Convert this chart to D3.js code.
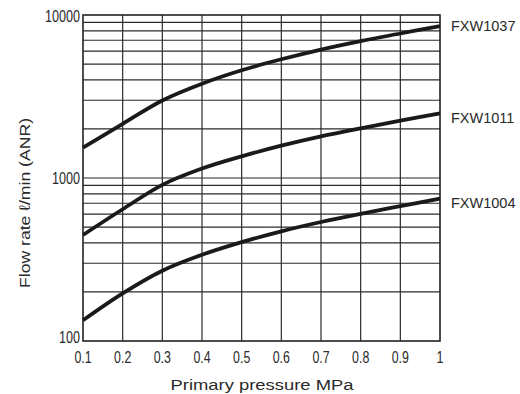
<!DOCTYPE html>
<html><head><meta charset="utf-8">
<script src="https://cdn.jsdelivr.net/npm/d3@7"></script>
<style>body{margin:0;background:#fff}svg{display:block}text{font-family:"Liberation Sans",Arial,sans-serif;fill:#2a2a2a}</style>
</head><body><svg id="c" width="520" height="394"></svg>
<script>
const pressures = [0.1,0.2,0.3,0.4,0.5,0.6,0.7,0.8,0.9,1.0];
const fxw1037 = [1535,2150,2990,3790,4580,5350,6140,6920,7700,8550];
const fxw1011 = [447,643,908,1143,1358,1578,1799,2018,2249,2495];
const fxw1004 = [134,196,270,338,404,471,537,603,672,748];
const seriesNames = ["FXW1037","FXW1011","FXW1004"];
const xTicks = [0.1,0.2,0.3,0.4,0.5,0.6,0.7,0.8,0.9,1];
const xTickLabels = ["0.1","0.2","0.3","0.4","0.5","0.6","0.7","0.8","0.9","1"];
const yTicks = [100,1000,10000];
const yGrid = [200,300,400,500,600,700,800,900,1000,2000,3000,4000,5000,6000,7000,8000,9000];

const svg = d3.select("#c");
const L=83, R=440, T=15, B=341;
const x = d3.scaleLinear().domain([0.1,1]).range([L,R]);
const y = d3.scaleLog().domain([100,10000]).range([B,T]);

function tlen(s){let w=0;for(const ch of s){w+= ch==="."?3.2:7;}return w;}

// grid
const g = svg.append("g");
g.selectAll("line.h").data(yGrid).join("line")
 .attr("x1",L).attr("x2",R).attr("y1",d=>y(d)).attr("y2",d=>y(d))
 .attr("stroke","#2a2a2a").attr("stroke-width",1.2);
g.selectAll("line.v").data(xTicks.slice(1,-1)).join("line")
 .attr("y1",T).attr("y2",B).attr("x1",d=>x(d)).attr("x2",d=>x(d))
 .attr("stroke","#2a2a2a").attr("stroke-width",1.2);
g.append("rect").attr("x",L).attr("y",T).attr("width",R-L).attr("height",B-T)
 .attr("fill","none").attr("stroke","#222").attr("stroke-width",1.6);

// x tick labels
svg.selectAll("text.xt").data(xTicks).join("text")
 .attr("x",d=>x(d)).attr("y",363).attr("text-anchor","middle")
 .attr("font-size",16)
 .attr("textLength",(d,i)=>tlen(xTickLabels[i])).attr("lengthAdjust","spacingAndGlyphs")
 .text((d,i)=>xTickLabels[i]);

// y tick labels
const yOff = {100:2, 1000:6, 10000:7};
svg.selectAll("text.yt").data(yTicks).join("text")
 .attr("x",80).attr("y",d=>y(d)+yOff[d]).attr("text-anchor","end")
 .attr("font-size",16)
 .attr("textLength",d=>tlen(String(d))).attr("lengthAdjust","spacingAndGlyphs")
 .text(d=>String(d));

// axis titles
svg.append("text").attr("x",262).attr("y",390).attr("text-anchor","middle")
 .attr("font-size",15.5).attr("textLength",183).attr("lengthAdjust","spacingAndGlyphs")
 .text("Primary pressure MPa");
svg.append("text").attr("transform","translate(30,203) rotate(-90)").attr("text-anchor","middle")
 .attr("font-size",15.5).attr("textLength",170).attr("lengthAdjust","spacingAndGlyphs")
 .text("Flow rate ℓ/min (ANR)");

// curves
const data = [fxw1037,fxw1011,fxw1004];
const line = d3.line().x((d,i)=>x(pressures[i])).y(d=>y(d)).curve(d3.curveCatmullRom.alpha(0.5));
svg.selectAll("path.s").data(data).join("path")
 .attr("d",d=>line(d)).attr("fill","none").attr("stroke","#1a1a1a").attr("stroke-width",3.8)
 .attr("stroke-linecap","butt");

// series labels
const labY = [26,118,203];
svg.selectAll("text.sl").data(seriesNames).join("text")
 .attr("x",451).attr("y",(d,i)=>labY[i]+5).attr("font-size",14.5)
 .text(d=>d);
</script></body></html>
